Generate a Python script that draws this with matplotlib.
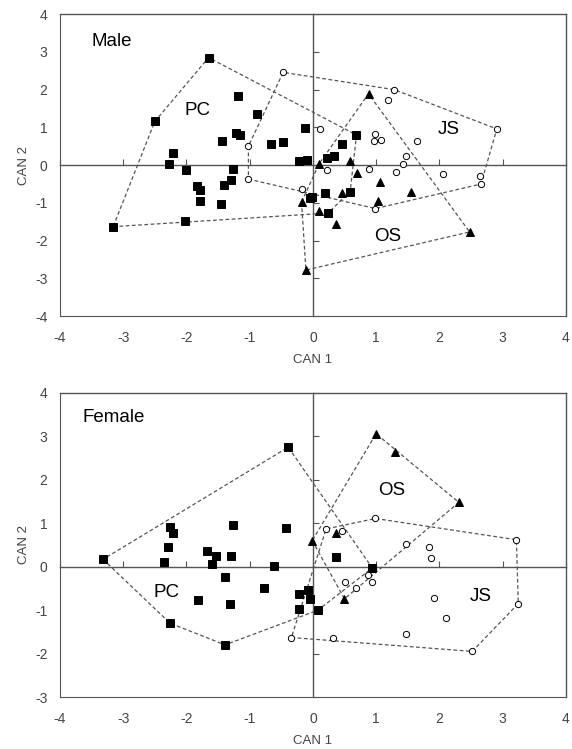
import numpy as np
import matplotlib
matplotlib.use('Agg')
from matplotlib import pyplot as plt

plt.rcParams['font.family'] = ['Liberation Sans', 'DejaVu Sans']
plt.rcParams['axes.unicode_minus'] = False

# Male canonical scores (CAN 1, CAN 2)
male_pc_x = [-1.65, -2.50, -3.16, -2.03, -1.18, -0.88, -1.21, -1.16, -1.43, -0.66, -0.47,
             -0.12, -0.22, -0.10, -2.21, -2.27, -2.01, -1.26, -1.84, -1.78, -1.29, -1.41,
             -1.79, -1.46, -0.05, -0.01, 0.22, 0.33, 0.46, 0.69, 0.19, 0.59, 0.24]
male_pc_y = [2.85, 1.16, -1.63, -1.48, 1.84, 1.35, 0.84, 0.81, 0.65, 0.57, 0.61,
             0.99, 0.10, 0.14, 0.32, 0.02, -0.13, -0.11, -0.54, -0.67, -0.39, -0.52,
             -0.94, -1.04, -0.88, -0.85, 0.19, 0.25, 0.57, 0.80, -0.73, -0.70, -1.27]
male_js_x = [-0.47, -1.02, -1.02, -0.18, 0.12, 1.29, 1.19, 2.91, 0.98, 0.96, 1.08,
             1.64, 1.47, 1.43, 1.31, 0.89, 0.22, 2.06, 2.65, 2.66, 0.99]
male_js_y = [2.46, 0.50, -0.37, -0.62, 0.97, 2.00, 1.72, 0.96, 0.83, 0.63, 0.67,
             0.63, 0.24, 0.03, -0.19, -0.09, -0.12, -0.23, -0.30, -0.50, -1.15]
male_os_x = [0.88, 2.48, -0.11, 0.10, 0.59, 0.70, 1.06, 1.55, 1.03, 0.46, 0.10, 0.36, -0.18]
male_os_y = [1.89, -1.77, -2.78, 0.04, 0.11, -0.20, -0.45, -0.72, -0.94, -0.73, -1.22, -1.55, -0.98]

# Female canonical scores
female_pc_x = [-0.39, -3.32, -2.26, -1.39, -2.26, -2.22, -2.29, -2.35, -1.26, -0.43, -1.68,
               -1.54, -1.59, -1.29, -0.62, -1.39, -0.78, -1.82, -1.31, -0.22, -0.08, -0.04,
               -0.22, 0.08, 0.37, 0.94]
female_pc_y = [2.75, 0.17, -1.30, -1.80, 0.91, 0.78, 0.45, 0.10, 0.97, 0.89, 0.37,
               0.24, 0.06, 0.25, 0.02, -0.23, -0.50, -0.76, -0.85, -0.63, -0.54, -0.75,
               -0.98, -1.00, 0.23, -0.03]
female_os_x = [1.00, 1.30, 2.31, 0.37, -0.01, 0.50]
female_os_y = [3.06, 2.64, 1.48, 0.78, 0.60, -0.74]
female_js_x = [0.21, 0.46, 0.99, 3.22, 3.25, 2.52, 0.32, 1.47, 1.84, 1.87, 1.92, 2.10,
               1.47, 0.87, 0.93, 0.51, 0.69, -0.34]
female_js_y = [0.87, 0.82, 1.11, 0.62, -0.85, -1.95, -1.65, 0.52, 0.45, 0.19, -0.71, -1.17,
               -1.54, -0.19, -0.35, -0.35, -0.50, -1.63]

ticks_x = [-4, -3, -2, -1, 0, 1, 2, 3, 4]

line_col = '#555555'
text_col = '#444444'


def hull(xs, ys):
    # monotone chain convex hull, returned closed
    pts = sorted(set(zip(xs, ys)))

    def cross(o, a, b):
        return (a[0]-o[0])*(b[1]-o[1]) - (a[1]-o[1])*(b[0]-o[0])
    lower = []
    for p in pts:
        while len(lower) >= 2 and cross(lower[-2], lower[-1], p) <= 0:
            lower.pop()
        lower.append(p)
    upper = []
    for p in reversed(pts):
        while len(upper) >= 2 and cross(upper[-2], upper[-1], p) <= 0:
            upper.pop()
        upper.append(p)
    h = lower[:-1] + upper[:-1]
    h.append(h[0])
    return [p[0] for p in h], [p[1] for p in h]


def panel(ax, groups, ylim, title, labels):
    ax.set_xlim(-4, 4)
    ax.set_ylim(*ylim)
    # zero lines with inward ticks
    ax.spines['left'].set_position(('data', 0))
    ax.spines['bottom'].set_position(('data', 0))
    for s in ['left', 'bottom', 'top', 'right']:
        ax.spines[s].set_color(line_col)
        ax.spines[s].set_linewidth(1.0)
    ax.set_xticks(ticks_x)
    ax.set_yticks(range(ylim[0], ylim[1] + 1))
    ax.tick_params(direction='in', length=4, width=0.8, color=line_col,
                   labelbottom=False, labelleft=False)
    # outer frame carries the labels
    sx = ax.secondary_xaxis('bottom')
    sx.set_xticks(ticks_x)
    sx.tick_params(length=0, pad=11, labelsize=10, labelcolor=text_col)
    sx.spines['bottom'].set_color(line_col)
    sx.set_xlabel('CAN 1', fontsize=9.5, color=text_col, labelpad=6)
    sy = ax.secondary_yaxis('left')
    sy.set_yticks(range(ylim[0], ylim[1] + 1))
    sy.tick_params(length=0, pad=9, labelsize=10, labelcolor=text_col)
    sy.spines['left'].set_color(line_col)
    sy.set_ylabel('CAN 2', fontsize=9.5, color=text_col, labelpad=4)

    for xs, ys, mk, ms, fc in groups:
        hx, hy = hull(xs, ys)
        ax.plot(hx, hy, ls=(0, (3, 2)), color=line_col, lw=0.9, zorder=2)
    for xs, ys, mk, ms, fc in groups:
        ax.plot(xs, ys, ls='none', marker=mk, ms=ms, mfc=fc, mec='black',
                mew=0.7, zorder=3)

    ax.text(title[1], title[2], title[0], fontsize=13.5, ha='left', va='baseline')
    for t, x, y in labels:
        ax.text(x, y, t, fontsize=13.5, ha='center', va='center')


fig = plt.figure(figsize=(5.72, 7.49), dpi=100)
ax1 = fig.add_axes([0.105, 0.578, 0.884, 0.403])
ax2 = fig.add_axes([0.105, 0.0694, 0.884, 0.406])

panel(ax1,
      [(male_pc_x, male_pc_y, 's', 5.5, 'black'),
       (male_js_x, male_js_y, 'o', 4.5, 'white'),
       (male_os_x, male_os_y, '^', 6.3, 'black')],
      (-4, 4), ('Male', -3.5, 3.15),
      [('PC', -1.83, 1.45), ('JS', 2.15, 0.95), ('OS', 1.19, -1.89)])

panel(ax2,
      [(female_pc_x, female_pc_y, 's', 5.5, 'black'),
       (female_js_x, female_js_y, 'o', 4.5, 'white'),
       (female_os_x, female_os_y, '^', 6.3, 'black')],
      (-3, 4), ('Female', -3.64, 3.32),
      [('PC', -2.31, -0.59), ('OS', 1.24, 1.76), ('JS', 2.66, -0.69)])

fig.savefig('out.png', dpi=100)
